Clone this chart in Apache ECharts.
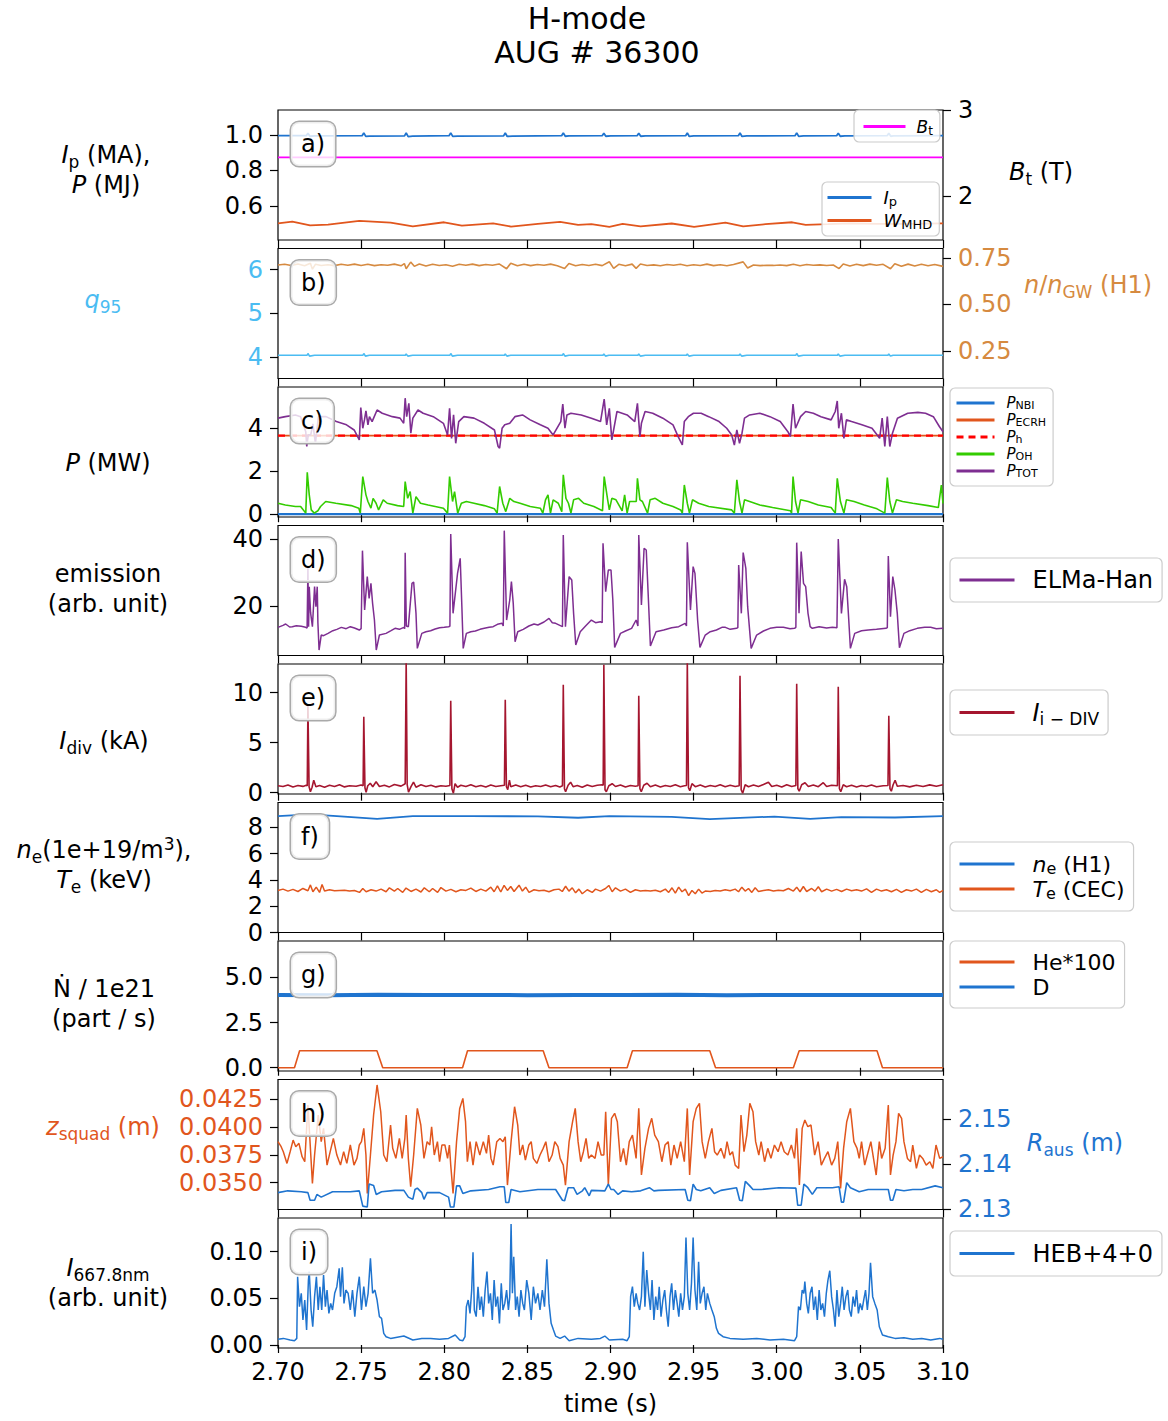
<!DOCTYPE html>
<html><head><meta charset="utf-8">
<script src="https://cdn.jsdelivr.net/npm/echarts@6/dist/echarts.min.js"></script>
<style>html,body{margin:0;padding:0;background:#fff}#c{width:1168px;height:1421px}</style>
</head><body><div id="c"></div><script>
// ---------------- DATA ----------------
const xTicks = [2.70, 2.75, 2.80, 2.85, 2.90, 2.95, 3.00, 3.05, 3.10];
const ticksA = [0.6, 0.8, 1.0];
const ticksBt = [2, 3];
const ticksQ = [4, 5, 6];
const ticksNgw = [0.25, 0.50, 0.75];
const ticksP = [0, 2, 4];
const ticksEm = [20, 40];
const ticksIdiv = [0, 5, 10];
const ticksNe = [0, 2, 4, 6, 8];
const ticksN = [0.0, 2.5, 5.0];
const ticksZ = [0.0350, 0.0375, 0.0400, 0.0425];
const ticksR = [2.13, 2.14, 2.15];
const ticksI = [0.00, 0.05, 0.10];

const ipData = [[2.700,0.996],[2.717,0.996],[2.718,1.010],[2.7192,0.993],[2.722,0.995],[2.7506,0.996],[2.7516,1.012],[2.7528,0.992],[2.755,0.994],[2.7761,0.995],[2.7771,1.011],[2.7783,0.991],[2.781,0.994],[2.8029,0.996],[2.8039,1.012],[2.8051,0.992],[2.808,0.994],[2.8357,0.995],[2.8367,1.011],[2.8379,0.992],[2.841,0.994],[2.8706,0.996],[2.8716,1.012],[2.8728,0.993],[2.875,0.995],[2.8950,0.996],[2.8960,1.010],[2.8972,0.993],[2.900,0.995],[2.9160,0.996],[2.9170,1.010],[2.9182,0.993],[2.921,0.995],[2.9452,0.996],[2.9462,1.011],[2.9474,0.992],[2.950,0.995],[2.9769,0.996],[2.9779,1.011],[2.9791,0.992],[2.982,0.995],[3.0110,0.996],[3.0120,1.012],[3.0132,0.992],[3.016,0.995],[3.0360,0.996],[3.0370,1.010],[3.0382,0.993],[3.041,0.995],[3.0664,0.996],[3.0674,1.010],[3.0686,0.993],[3.070,0.995],[3.100,0.997]];
const wmhdData = [[2.700,0.502],[2.7086,0.512],[2.7193,0.491],[2.7301,0.495],[2.7489,0.516],[2.7677,0.506],[2.7811,0.485],[2.7999,0.508],[2.8106,0.489],[2.8294,0.502],[2.8402,0.484],[2.8563,0.499],[2.8697,0.510],[2.8805,0.493],[2.8885,0.497],[2.8993,0.482],[2.9073,0.499],[2.9181,0.485],[2.9368,0.501],[2.9503,0.482],[2.9691,0.506],[2.9798,0.485],[2.9932,0.497],[3.0093,0.508],[3.0174,0.493],[3.0308,0.497],[3.0443,0.502],[3.0604,0.499],[3.0765,0.499],[3.0999,0.502]];
const btData = [[2.700,2.45],[3.100,2.45]];
const q95Data = [[2.700,4.04],[2.7175,4.04],[2.7180,4.08],[2.7190,4.02],[2.722,4.04],[2.7511,4.04],[2.7516,4.08],[2.7526,4.02],[2.755,4.04],[2.7766,4.04],[2.7771,4.07],[2.7781,4.02],[2.781,4.04],[2.8034,4.04],[2.8039,4.08],[2.8049,4.02],[2.808,4.04],[2.8362,4.04],[2.8367,4.07],[2.8377,4.02],[2.840,4.04],[2.8711,4.04],[2.8716,4.08],[2.8726,4.02],[2.875,4.04],[2.8955,4.04],[2.8960,4.07],[2.8970,4.02],[2.899,4.04],[2.9165,4.04],[2.9170,4.07],[2.9180,4.02],[2.921,4.04],[2.9457,4.04],[2.9462,4.07],[2.9472,4.02],[2.950,4.04],[2.9774,4.04],[2.9779,4.07],[2.9789,4.02],[2.982,4.04],[3.0115,4.04],[3.0120,4.08],[3.0130,4.02],[3.016,4.04],[3.0365,4.04],[3.0370,4.07],[3.0380,4.02],[3.041,4.04],[3.0669,4.04],[3.0674,4.07],[3.0684,4.02],[3.070,4.04],[3.100,4.04]];
const ngwData = [[2.700,0.712],[2.704,0.716],[2.708,0.710],[2.712,0.718],[2.716,0.708],[2.7195,0.722],[2.7207,0.690],[2.7225,0.716],[2.726,0.710],[2.730,0.714],[2.734,0.709],[2.738,0.716],[2.742,0.711],[2.746,0.717],[2.750,0.710],[2.754,0.716],[2.758,0.709],[2.762,0.714],[2.766,0.711],[2.770,0.717],[2.774,0.708],[2.776,0.720],[2.7771,0.692],[2.7798,0.728],[2.782,0.705],[2.785,0.718],[2.789,0.707],[2.793,0.716],[2.797,0.710],[2.801,0.714],[2.805,0.706],[2.809,0.716],[2.813,0.711],[2.817,0.717],[2.821,0.709],[2.825,0.715],[2.829,0.711],[2.833,0.718],[2.8375,0.692],[2.840,0.722],[2.844,0.708],[2.848,0.716],[2.852,0.709],[2.856,0.715],[2.860,0.711],[2.864,0.717],[2.868,0.708],[2.8724,0.693],[2.875,0.720],[2.879,0.708],[2.883,0.715],[2.887,0.710],[2.891,0.716],[2.895,0.709],[2.8993,0.730],[2.9019,0.694],[2.905,0.716],[2.909,0.708],[2.913,0.717],[2.9154,0.694],[2.918,0.718],[2.922,0.710],[2.926,0.713],[2.930,0.708],[2.934,0.715],[2.938,0.711],[2.942,0.716],[2.946,0.708],[2.950,0.714],[2.954,0.710],[2.958,0.717],[2.962,0.709],[2.966,0.714],[2.970,0.708],[2.974,0.715],[2.9798,0.729],[2.9825,0.696],[2.986,0.712],[2.990,0.709],[2.994,0.711],[2.998,0.710],[3.002,0.712],[3.006,0.709],[3.010,0.716],[3.014,0.708],[3.018,0.715],[3.022,0.711],[3.026,0.713],[3.030,0.710],[3.034,0.712],[3.0375,0.693],[3.040,0.718],[3.044,0.707],[3.048,0.716],[3.052,0.709],[3.056,0.717],[3.060,0.711],[3.064,0.716],[3.0684,0.692],[3.071,0.719],[3.075,0.705],[3.079,0.717],[3.083,0.707],[3.087,0.716],[3.091,0.708],[3.095,0.715],[3.100,0.705]];
const pnbiData = [[2.700,0.0],[3.100,0.0]];
const pecrhData = [[2.700,3.66],[3.100,3.66]];
const phData = [[2.700,3.66],[3.100,3.66]];
const pohData = [[2.700,0.51],[2.7044,0.43],[2.7105,0.36],[2.7136,0.36],[2.7167,0.05],[2.7176,1.95],[2.7188,0.90],[2.7200,0.20],[2.7218,0.05],[2.7240,0.16],[2.7256,0.36],[2.7287,0.59],[2.7348,0.51],[2.7440,0.40],[2.7486,0.28],[2.7495,0.05],[2.7510,1.75],[2.7529,0.90],[2.7541,0.59],[2.7559,0.28],[2.7572,0.74],[2.7590,0.51],[2.7605,0.20],[2.7633,0.67],[2.7657,0.51],[2.7719,0.40],[2.7756,0.36],[2.7765,1.52],[2.7780,0.74],[2.7795,1.05],[2.7811,0.05],[2.7830,0.82],[2.7857,0.51],[2.7903,0.43],[2.7995,0.28],[2.8020,0.05],[2.8032,1.75],[2.8050,0.59],[2.8062,1.05],[2.8081,0.05],[2.8103,0.51],[2.8133,0.59],[2.8179,0.51],[2.8241,0.40],[2.8302,0.25],[2.8318,0.05],[2.8333,1.29],[2.8352,0.51],[2.8370,0.12],[2.8394,0.74],[2.8419,0.59],[2.8456,0.51],[2.8517,0.36],[2.8578,0.28],[2.8593,0.05],[2.8609,0.67],[2.8624,0.90],[2.8639,0.05],[2.8655,0.67],[2.8686,0.51],[2.8707,0.12],[2.8716,1.83],[2.8732,0.74],[2.8747,0.51],[2.8762,0.05],[2.8778,0.67],[2.8808,0.74],[2.8839,0.51],[2.8900,0.36],[2.8952,0.16],[2.8962,1.75],[2.8983,0.67],[2.8993,0.20],[2.9008,0.74],[2.9033,0.67],[2.9070,0.16],[2.9085,0.90],[2.9100,0.05],[2.9115,0.59],[2.9155,0.59],[2.9162,1.67],[2.9177,0.67],[2.9192,0.59],[2.9223,0.05],[2.9238,0.67],[2.9269,0.74],[2.9315,0.51],[2.9376,0.36],[2.9422,0.20],[2.9432,0.05],[2.9444,1.36],[2.9462,0.51],[2.9475,0.05],[2.9493,0.67],[2.9530,0.51],[2.9591,0.36],[2.9729,0.20],[2.9745,0.05],[2.9760,1.60],[2.9776,0.59],[2.9791,0.05],[2.9806,0.67],[2.9837,0.59],[2.9898,0.43],[2.9975,0.31],[3.0082,0.16],[3.0089,0.05],[3.0098,1.75],[3.0113,0.59],[3.0128,0.05],[3.0143,0.67],[3.0189,0.59],[3.0250,0.43],[3.0327,0.31],[3.0352,0.05],[3.0364,1.67],[3.0383,0.59],[3.0404,0.05],[3.0419,0.67],[3.0465,0.59],[3.0527,0.43],[3.0603,0.25],[3.0650,0.05],[3.0665,1.71],[3.0680,0.59],[3.0696,0.05],[3.0720,0.67],[3.0757,0.59],[3.0818,0.51],[3.0910,0.40],[3.0972,0.31],[3.0990,1.36],[3.1000,0.50]];
const ptotData = [[2.700,4.47],[2.7044,4.54],[2.7105,4.62],[2.7136,4.54],[2.7167,3.84],[2.7173,3.15],[2.7182,3.69],[2.7197,3.69],[2.7210,4.20],[2.7225,3.30],[2.7243,4.54],[2.7289,4.54],[2.7351,4.31],[2.7412,4.16],[2.7458,3.92],[2.7489,3.46],[2.7498,4.96],[2.7510,4.00],[2.7520,4.39],[2.7529,4.81],[2.7541,4.16],[2.7550,4.54],[2.7566,4.31],[2.7596,4.85],[2.7627,4.70],[2.7688,4.54],[2.7734,4.47],[2.7756,4.23],[2.7765,5.40],[2.7774,4.54],[2.7787,5.16],[2.7799,3.77],[2.7811,4.47],[2.7842,4.85],[2.7873,4.70],[2.7934,4.54],[2.7995,4.23],[2.8020,3.69],[2.8032,4.93],[2.8044,3.53],[2.8056,4.62],[2.8069,3.30],[2.8087,4.31],[2.8118,4.54],[2.8179,4.47],[2.8241,4.23],[2.8302,3.92],[2.8324,3.15],[2.8333,3.07],[2.8348,4.00],[2.8364,4.16],[2.8394,4.23],[2.8425,4.54],[2.8471,4.62],[2.8517,4.39],[2.8578,4.16],[2.8624,4.00],[2.8655,3.69],[2.8701,4.31],[2.8713,5.12],[2.8726,4.00],[2.8738,4.62],[2.8762,4.70],[2.8824,4.62],[2.8885,4.47],[2.8940,4.31],[2.8962,5.36],[2.8977,4.16],[2.8993,4.93],[2.9008,3.46],[2.9039,4.78],[2.9100,4.62],[2.9146,4.31],[2.9162,5.16],[2.9177,3.61],[2.9186,4.23],[2.9208,4.78],[2.9254,4.70],[2.9315,4.47],[2.9376,4.16],[2.9407,3.61],[2.9432,3.22],[2.9444,4.31],[2.9468,4.54],[2.9499,4.70],[2.9545,4.70],[2.9591,4.54],[2.9653,4.31],[2.9699,4.00],[2.9729,3.69],[2.9745,3.22],[2.9760,3.92],[2.9776,3.30],[2.9791,3.77],[2.9806,4.47],[2.9837,4.62],[2.9898,4.70],[2.9959,4.54],[3.0021,4.31],[3.0067,3.84],[3.0082,3.61],[3.0098,5.12],[3.0113,4.00],[3.0143,4.54],[3.0174,4.78],[3.0220,4.70],[3.0266,4.54],[3.0327,4.39],[3.0352,4.78],[3.0364,5.27],[3.0373,4.00],[3.0389,4.70],[3.0404,3.53],[3.0419,4.39],[3.0450,4.31],[3.0512,4.16],[3.0573,4.00],[3.0619,3.53],[3.0634,4.47],[3.0650,3.15],[3.0665,4.54],[3.0680,3.15],[3.0696,3.77],[3.0726,4.47],[3.0788,4.70],[3.0849,4.74],[3.0895,4.70],[3.0942,4.54],[3.0978,4.08],[3.1000,3.84]];
const elmData = [[2.7000,13.6],[2.7030,14.2],[2.7046,14.6],[2.7070,13.7],[2.7086,13.8],[2.7110,14.1],[2.7140,13.9],[2.7166,13.6],[2.7175,13.4],[2.7180,31.3],[2.7184,13.8],[2.7188,25.8],[2.7196,18.0],[2.7207,13.8],[2.7220,25.8],[2.7228,19.8],[2.7236,25.8],[2.7240,15.0],[2.7247,6.8],[2.7260,11.3],[2.7274,11.1],[2.7301,11.8],[2.7330,12.6],[2.7354,13.0],[2.7381,13.6],[2.7410,13.2],[2.7435,13.8],[2.7460,13.4],[2.7489,12.8],[2.7500,13.2],[2.7508,36.6],[2.7521,18.8],[2.7537,28.8],[2.7548,22.3],[2.7559,26.8],[2.7569,20.8],[2.7580,15.8],[2.7591,6.8],[2.7610,11.3],[2.7650,11.8],[2.7680,12.6],[2.7704,13.3],[2.7730,13.0],[2.7757,13.6],[2.7762,13.2],[2.7765,36.0],[2.7772,14.0],[2.7784,13.8],[2.7806,26.8],[2.7816,27.2],[2.7830,17.8],[2.7838,7.3],[2.7865,11.8],[2.7890,12.3],[2.7918,12.6],[2.7945,13.1],[2.7972,13.5],[2.8000,13.6],[2.8026,13.8],[2.8034,13.9],[2.8039,41.6],[2.8053,17.8],[2.8080,29.8],[2.8096,34.3],[2.8106,19.8],[2.8114,7.3],[2.8133,11.8],[2.8160,12.3],[2.8187,12.5],[2.8215,13.0],[2.8241,13.3],[2.8270,13.6],[2.8294,13.8],[2.8320,14.5],[2.8348,14.8],[2.8355,14.0],[2.8361,42.6],[2.8375,15.8],[2.8394,21.8],[2.8404,27.3],[2.8415,20.8],[2.8426,9.3],[2.8442,12.3],[2.8475,13.0],[2.8509,14.0],[2.8540,14.6],[2.8563,14.3],[2.8600,15.2],[2.8630,16.3],[2.8650,15.0],[2.8670,14.8],[2.8711,13.8],[2.8716,41.3],[2.8729,13.8],[2.8751,28.8],[2.8767,27.8],[2.8778,17.8],[2.8791,8.3],[2.8818,12.3],[2.8850,14.0],[2.8885,15.8],[2.8910,15.0],[2.8939,15.3],[2.8950,15.0],[2.8955,38.8],[2.8971,24.3],[2.8987,30.8],[2.9003,30.8],[2.9014,21.8],[2.9025,7.6],[2.9060,11.8],[2.9090,12.5],[2.9127,13.3],[2.9154,15.8],[2.9165,14.0],[2.9170,41.3],[2.9186,20.3],[2.9202,37.3],[2.9215,36.8],[2.9229,20.8],[2.9240,8.0],[2.9274,12.3],[2.9320,12.8],[2.9368,13.5],[2.9410,13.8],[2.9449,14.8],[2.9457,14.0],[2.9462,39.1],[2.9481,18.8],[2.9497,31.8],[2.9508,29.8],[2.9524,15.8],[2.9538,7.6],[2.9570,11.3],[2.9600,12.3],[2.9637,12.8],[2.9670,13.6],[2.9691,13.6],[2.9720,13.0],[2.9758,13.3],[2.9766,13.5],[2.9771,32.3],[2.9787,17.8],[2.9798,36.0],[2.9814,31.3],[2.9825,19.8],[2.9846,7.3],[2.9879,11.3],[2.9920,12.5],[2.9959,13.3],[3.0000,13.6],[3.0040,13.6],[3.0080,13.2],[3.0107,13.3],[3.0115,13.6],[3.0120,39.0],[3.0134,17.8],[3.0147,36.3],[3.0161,26.8],[3.0174,25.8],[3.0188,17.8],[3.0201,13.8],[3.0214,13.3],[3.0255,13.8],[3.0300,13.4],[3.0335,13.6],[3.0362,13.5],[3.0370,40.1],[3.0389,17.8],[3.0408,28.0],[3.0421,25.8],[3.0432,16.8],[3.0443,7.3],[3.0469,11.8],[3.0510,12.6],[3.0550,12.8],[3.0600,13.0],[3.0657,13.3],[3.0665,13.5],[3.0671,35.0],[3.0684,16.8],[3.0698,28.8],[3.0711,24.8],[3.0725,17.8],[3.0738,7.5],[3.0765,11.8],[3.0800,12.6],[3.0845,13.3],[3.0890,13.6],[3.0926,13.6],[3.0960,13.2],[3.1000,13.3]];
const idivData = [[2.7000,0.70],[2.7030,0.62],[2.7060,0.78],[2.7090,0.58],[2.7120,0.72],[2.7150,0.63],[2.7170,0.75],[2.7176,0.70],[2.7180,8.7],[2.7187,0.60],[2.7195,0.10],[2.7205,0.55],[2.7215,1.25],[2.7228,0.60],[2.7250,0.72],[2.7280,0.55],[2.7310,0.75],[2.7340,0.62],[2.7370,0.80],[2.7400,0.58],[2.7430,0.70],[2.7470,0.65],[2.7500,0.78],[2.7512,0.70],[2.7516,7.6],[2.7523,0.50],[2.7530,0.05],[2.7540,0.70],[2.7555,0.95],[2.7570,0.60],[2.7590,1.10],[2.7610,0.62],[2.7640,0.75],[2.7670,0.58],[2.7700,0.82],[2.7740,0.66],[2.7765,0.90],[2.7771,13.2],[2.7777,0.80],[2.7785,0.05],[2.7800,0.60],[2.7815,1.05],[2.7830,0.55],[2.7860,0.80],[2.7890,0.62],[2.7920,0.74],[2.7950,0.58],[2.7980,0.70],[2.8010,0.64],[2.8034,0.72],[2.8039,9.2],[2.8046,0.40],[2.8055,-0.05],[2.8065,0.90],[2.8080,0.55],[2.8100,0.75],[2.8130,0.62],[2.8160,0.80],[2.8190,0.60],[2.8220,0.72],[2.8250,0.58],[2.8280,0.76],[2.8310,0.62],[2.8340,0.70],[2.8362,0.75],[2.8367,9.3],[2.8374,0.60],[2.8382,0.30],[2.8392,1.25],[2.8400,0.60],[2.8430,0.78],[2.8460,0.60],[2.8490,0.74],[2.8520,0.56],[2.8550,0.70],[2.8580,0.62],[2.8610,0.78],[2.8640,0.60],[2.8670,0.72],[2.8695,0.58],[2.8711,0.70],[2.8716,10.8],[2.8723,0.40],[2.8730,0.10],[2.8745,0.75],[2.8760,1.05],[2.8775,0.60],[2.8800,0.72],[2.8830,0.55],[2.8860,0.78],[2.8890,0.62],[2.8920,0.74],[2.8950,0.80],[2.8956,0.75],[2.8960,12.8],[2.8967,0.30],[2.8975,0.10],[2.8990,0.70],[2.9010,0.90],[2.9030,0.62],[2.9060,0.78],[2.9090,0.58],[2.9120,0.72],[2.9150,0.65],[2.9166,0.70],[2.9170,9.7],[2.9177,0.40],[2.9185,0.10],[2.9200,0.75],[2.9220,0.95],[2.9240,0.60],[2.9270,0.76],[2.9300,0.58],[2.9330,0.72],[2.9360,0.62],[2.9390,0.80],[2.9420,0.60],[2.9445,0.70],[2.9457,0.72],[2.9462,13.2],[2.9469,0.50],[2.9477,0.20],[2.9490,0.90],[2.9510,0.60],[2.9540,0.78],[2.9570,0.58],[2.9600,0.72],[2.9630,0.62],[2.9660,0.80],[2.9690,0.60],[2.9720,0.74],[2.9750,0.62],[2.9774,0.70],[2.9779,11.7],[2.9786,0.30],[2.9795,-0.05],[2.9810,0.80],[2.9830,0.60],[2.9860,0.76],[2.9890,0.62],[2.9920,0.82],[2.9950,1.05],[2.9970,0.62],[3.0000,0.74],[3.0030,0.58],[3.0060,0.80],[3.0090,0.62],[3.0115,0.72],[3.0120,10.9],[3.0127,0.40],[3.0135,0.15],[3.0150,0.80],[3.0170,1.00],[3.0190,0.62],[3.0220,0.78],[3.0250,0.60],[3.0280,1.00],[3.0300,0.62],[3.0330,0.75],[3.0365,0.70],[3.0370,10.6],[3.0377,0.40],[3.0385,0.10],[3.0400,0.80],[3.0420,0.60],[3.0450,0.75],[3.0480,0.58],[3.0510,0.72],[3.0540,0.62],[3.0570,0.78],[3.0600,0.60],[3.0640,0.70],[3.0669,0.72],[3.0674,7.7],[3.0681,0.40],[3.0689,0.15],[3.0700,0.80],[3.0712,1.25],[3.0725,0.65],[3.0760,0.72],[3.0800,0.58],[3.0840,0.75],[3.0880,0.62],[3.0920,0.78],[3.0960,0.64],[3.1000,0.80]];
const neData = [[2.700,8.86],[2.7193,8.98],[2.7354,8.86],[2.7596,8.65],[2.7811,8.86],[2.8160,8.86],[2.8563,8.83],[2.8805,8.73],[2.8993,8.86],[2.9368,8.80],[2.9597,8.63],[2.9986,8.82],[3.0201,8.65],[3.0389,8.78],[3.0711,8.75],[3.0999,8.86]];
const teData = [[2.700,3.20],[2.703,3.30],[2.706,3.15],[2.709,3.28],[2.712,3.12],[2.715,3.35],[2.718,3.18],[2.7195,3.62],[2.721,3.10],[2.723,3.45],[2.725,3.05],[2.7265,3.65],[2.728,3.15],[2.731,3.25],[2.734,3.18],[2.737,3.20],[2.740,3.22],[2.743,3.15],[2.746,3.20],[2.749,3.05],[2.751,3.35],[2.753,3.10],[2.756,3.25],[2.759,3.15],[2.762,3.30],[2.765,3.10],[2.767,3.40],[2.770,3.15],[2.772,3.35],[2.775,3.05],[2.777,3.38],[2.780,3.12],[2.783,3.30],[2.786,3.08],[2.788,3.40],[2.791,3.10],[2.793,3.35],[2.796,3.05],[2.798,3.42],[2.801,3.15],[2.804,3.28],[2.807,3.10],[2.810,3.25],[2.813,3.20],[2.816,3.38],[2.819,3.12],[2.822,3.30],[2.825,3.15],[2.828,3.45],[2.830,3.10],[2.832,3.55],[2.834,3.08],[2.836,3.58],[2.838,3.20],[2.840,3.50],[2.842,3.12],[2.845,3.60],[2.847,3.15],[2.849,3.45],[2.851,3.05],[2.854,3.25],[2.857,3.18],[2.860,3.22],[2.863,3.10],[2.866,3.25],[2.869,3.30],[2.871,3.12],[2.873,3.52],[2.875,3.15],[2.877,3.40],[2.879,3.02],[2.881,3.30],[2.883,2.95],[2.886,3.25],[2.889,3.05],[2.891,3.30],[2.894,3.15],[2.897,3.35],[2.899,3.58],[2.901,3.10],[2.903,3.40],[2.906,3.15],[2.909,3.30],[2.912,3.05],[2.915,3.25],[2.918,3.15],[2.921,3.20],[2.924,3.15],[2.927,3.22],[2.930,3.10],[2.933,3.30],[2.935,3.05],[2.937,3.40],[2.939,3.00],[2.941,3.45],[2.943,3.10],[2.945,3.30],[2.947,2.80],[2.949,3.20],[2.951,2.95],[2.953,3.30],[2.955,3.00],[2.957,3.15],[2.960,3.12],[2.963,3.20],[2.966,3.15],[2.969,3.25],[2.972,3.18],[2.975,3.30],[2.977,3.10],[2.979,3.45],[2.981,3.15],[2.983,3.35],[2.985,3.05],[2.987,3.40],[2.989,3.12],[2.992,3.20],[2.995,3.25],[2.998,3.15],[3.001,3.22],[3.004,3.18],[3.007,3.35],[3.010,3.15],[3.012,3.45],[3.014,3.10],[3.016,3.50],[3.018,3.12],[3.021,3.35],[3.023,3.15],[3.025,3.48],[3.027,3.10],[3.030,3.30],[3.033,3.15],[3.036,3.28],[3.039,3.12],[3.042,3.30],[3.045,3.18],[3.048,3.25],[3.051,3.15],[3.054,3.32],[3.057,3.05],[3.060,3.30],[3.063,3.15],[3.066,3.25],[3.069,3.10],[3.072,3.28],[3.075,3.05],[3.078,3.25],[3.081,3.15],[3.084,3.30],[3.087,3.05],[3.090,3.28],[3.093,3.10],[3.096,3.25],[3.098,3.05],[3.100,3.20]];
const heData = [[2.700,0],[2.7099,0],[2.7130,0.94],[2.7595,0.94],[2.7630,0],[2.8110,0],[2.8140,0.94],[2.8595,0.94],[2.8630,0],[2.9100,0],[2.9132,0.94],[2.9597,0.94],[2.9632,0],[3.0100,0],[3.0135,0.94],[3.0603,0.94],[3.0636,0],[3.1000,0]];
const dData = [[2.700,4.03],[2.730,4.01],[2.760,4.04],[2.790,4.02],[2.820,4.03],[2.850,4.01],[2.880,4.03],[2.910,4.02],[2.940,4.04],[2.970,4.01],[3.000,4.03],[3.030,4.02],[3.060,4.03],[3.100,4.02]];
const zData = [[2.7000,0.03868],[2.7019,0.03823],[2.7032,0.03778],[2.7054,0.03673],[2.7073,0.03778],[2.7091,0.03882],[2.7107,0.03823],[2.7126,0.03853],[2.7145,0.03733],[2.7161,0.03688],[2.7180,0.04196],[2.7207,0.03494],[2.7220,0.03748],[2.7242,0.04107],[2.7260,0.03868],[2.7274,0.03987],[2.7295,0.03658],[2.7314,0.03778],[2.7333,0.03897],[2.7354,0.03748],[2.7376,0.03658],[2.7395,0.03778],[2.7414,0.03673],[2.7435,0.03838],[2.7457,0.03658],[2.7475,0.03718],[2.7489,0.03838],[2.7502,0.03868],[2.7516,0.03987],[2.7529,0.03748],[2.7537,0.03404],[2.7556,0.03748],[2.7575,0.04107],[2.7596,0.04376],[2.7618,0.04136],[2.7636,0.03748],[2.7655,0.03688],[2.7677,0.04017],[2.7690,0.03808],[2.7709,0.03718],[2.7730,0.03897],[2.7747,0.03718],[2.7763,0.03897],[2.7771,0.04107],[2.7784,0.03718],[2.7798,0.03464],[2.7816,0.03748],[2.7838,0.04166],[2.7859,0.04017],[2.7878,0.03718],[2.7897,0.03868],[2.7913,0.03838],[2.7924,0.04002],[2.7940,0.03748],[2.7959,0.03868],[2.7972,0.03688],[2.7986,0.03838],[2.8004,0.03838],[2.8020,0.03718],[2.8031,0.03838],[2.8039,0.03658],[2.8053,0.03404],[2.8074,0.03868],[2.8093,0.04166],[2.8112,0.04256],[2.8128,0.04047],[2.8139,0.03688],[2.8155,0.03868],[2.8173,0.03658],[2.8192,0.03868],[2.8214,0.03748],[2.8235,0.03868],[2.8254,0.03763],[2.8267,0.03927],[2.8281,0.03718],[2.8294,0.03658],[2.8316,0.03868],[2.8335,0.03897],[2.8353,0.03868],[2.8367,0.03912],[2.8380,0.03479],[2.8402,0.03868],[2.8423,0.04181],[2.8442,0.04017],[2.8455,0.03748],[2.8472,0.03838],[2.8488,0.03703],[2.8509,0.03838],[2.8523,0.03868],[2.8536,0.03718],[2.8557,0.03673],[2.8576,0.03748],[2.8595,0.03808],[2.8611,0.03868],[2.8630,0.03688],[2.8649,0.03748],[2.8665,0.03868],[2.8684,0.03823],[2.8697,0.03718],[2.8716,0.03658],[2.8729,0.03479],[2.8751,0.03868],[2.8772,0.04047],[2.8788,0.04166],[2.8805,0.03868],[2.8821,0.03688],[2.8837,0.03778],[2.8853,0.03897],[2.8869,0.03718],[2.8885,0.03748],[2.8907,0.03718],[2.8925,0.03868],[2.8944,0.03748],[2.8960,0.03748],[2.8971,0.04136],[2.8987,0.03479],[2.9006,0.04077],[2.9025,0.04122],[2.9041,0.04047],[2.9060,0.03688],[2.9078,0.03808],[2.9095,0.03658],[2.9113,0.03868],[2.9132,0.03927],[2.9154,0.03718],[2.9170,0.04166],[2.9186,0.03569],[2.9207,0.03808],[2.9229,0.03987],[2.9248,0.04077],[2.9266,0.03927],[2.9288,0.03868],[2.9309,0.03688],[2.9328,0.03838],[2.9347,0.03868],[2.9363,0.03658],[2.9382,0.03838],[2.9401,0.03718],[2.9422,0.03868],[2.9444,0.03688],[2.9462,0.04166],[2.9476,0.03569],[2.9497,0.04047],[2.9516,0.04166],[2.9535,0.04211],[2.9551,0.03868],[2.9570,0.03718],[2.9589,0.03868],[2.9610,0.03987],[2.9626,0.03778],[2.9642,0.03748],[2.9664,0.03808],[2.9685,0.03718],[2.9701,0.03868],[2.9718,0.03748],[2.9734,0.03778],[2.9750,0.03658],[2.9771,0.03628],[2.9785,0.04107],[2.9803,0.03778],[2.9820,0.03927],[2.9838,0.04211],[2.9857,0.04136],[2.9873,0.03868],[2.9892,0.03748],[2.9906,0.03868],[2.9927,0.03688],[2.9946,0.03808],[2.9965,0.03718],[2.9986,0.03838],[3.0008,0.03778],[3.0026,0.03868],[3.0045,0.03778],[3.0067,0.03748],[3.0088,0.03838],[3.0107,0.03718],[3.0120,0.03987],[3.0136,0.03479],[3.0153,0.03987],[3.0169,0.04062],[3.0187,0.04002],[3.0206,0.04017],[3.0228,0.03748],[3.0249,0.03868],[3.0268,0.03658],[3.0287,0.03718],[3.0308,0.03778],[3.0330,0.03658],[3.0349,0.03718],[3.0367,0.03868],[3.0384,0.03449],[3.0402,0.03808],[3.0421,0.04047],[3.0443,0.04166],[3.0464,0.03868],[3.0483,0.03808],[3.0496,0.03718],[3.0510,0.03868],[3.0529,0.03658],[3.0550,0.03778],[3.0566,0.03868],[3.0582,0.03718],[3.0598,0.03569],[3.0617,0.03868],[3.0631,0.03718],[3.0652,0.03808],[3.0671,0.04196],[3.0684,0.03569],[3.0700,0.03748],[3.0717,0.03868],[3.0733,0.04122],[3.0751,0.04077],[3.0765,0.03868],[3.0786,0.03718],[3.0805,0.03688],[3.0818,0.03838],[3.0840,0.03628],[3.0859,0.03748],[3.0878,0.03718],[3.0899,0.03658],[3.0921,0.03688],[3.0939,0.03628],[3.0958,0.03838],[3.0980,0.03718],[3.1000,0.03733]];
const rData = [[2.7000,2.1337],[2.7059,2.1341],[2.7140,2.1339],[2.7180,2.1337],[2.7193,2.1320],[2.7220,2.1320],[2.7234,2.1333],[2.7260,2.1327],[2.7328,2.1339],[2.7435,2.1339],[2.7489,2.1341],[2.7510,2.1307],[2.7537,2.1305],[2.7548,2.1356],[2.7575,2.1353],[2.7591,2.1333],[2.7623,2.1339],[2.7704,2.1342],[2.7757,2.1342],[2.7784,2.1327],[2.7811,2.1322],[2.7824,2.1344],[2.7838,2.1347],[2.7865,2.1337],[2.7878,2.1322],[2.7897,2.1337],[2.7972,2.1337],[2.8026,2.1327],[2.8037,2.1305],[2.8058,2.1305],[2.8074,2.1352],[2.8093,2.1352],[2.8112,2.1335],[2.8160,2.1341],[2.8267,2.1344],[2.8335,2.1350],[2.8361,2.1350],[2.8370,2.1315],[2.8388,2.1315],[2.8402,2.1344],[2.8455,2.1339],[2.8563,2.1344],[2.8670,2.1344],[2.8711,2.1320],[2.8724,2.1319],[2.8745,2.1348],[2.8778,2.1348],[2.8799,2.1333],[2.8831,2.1341],[2.8845,2.1348],[2.8872,2.1330],[2.8885,2.1342],[2.8966,2.1341],[2.8987,2.1356],[2.9003,2.1344],[2.9019,2.1344],[2.9046,2.1333],[2.9073,2.1341],[2.9127,2.1339],[2.9181,2.1341],[2.9234,2.1348],[2.9261,2.1341],[2.9288,2.1342],[2.9449,2.1344],[2.9465,2.1320],[2.9481,2.1319],[2.9497,2.1356],[2.9516,2.1344],[2.9543,2.1341],[2.9597,2.1348],[2.9624,2.1335],[2.9664,2.1342],[2.9758,2.1348],[2.9777,2.1320],[2.9793,2.1319],[2.9811,2.1362],[2.9838,2.1352],[2.9857,2.1344],[2.9906,2.1344],[3.0013,2.1348],[3.0115,2.1347],[3.0126,2.1309],[3.0147,2.1309],[3.0163,2.1356],[3.0187,2.1348],[3.0214,2.1333],[3.0241,2.1348],[3.0335,2.1348],[3.0375,2.1350],[3.0389,2.1316],[3.0402,2.1316],[3.0421,2.1359],[3.0443,2.1348],[3.0496,2.1339],[3.0550,2.1344],[3.0671,2.1344],[3.0684,2.1320],[3.0698,2.1320],[3.0717,2.1344],[3.0765,2.1341],[3.0818,2.1344],[3.0872,2.1344],[3.0953,2.1352],[3.0999,2.1348]];
const hebData = [[2.7000,0.0061],[2.7032,0.0071],[2.7073,0.0054],[2.7099,0.0046],[2.7113,0.0071],[2.7118,0.0732],[2.7129,0.0411],[2.7140,0.0554],[2.7150,0.0268],[2.7161,0.0482],[2.7172,0.0161],[2.7183,0.0696],[2.7188,0.0786],[2.7199,0.0375],[2.7209,0.0196],[2.7220,0.0518],[2.7231,0.0732],[2.7242,0.0375],[2.7252,0.0625],[2.7263,0.0375],[2.7274,0.0750],[2.7285,0.0411],[2.7295,0.0589],[2.7306,0.0339],[2.7317,0.0446],[2.7328,0.0375],[2.7341,0.0554],[2.7354,0.0625],[2.7368,0.0821],[2.7376,0.0518],[2.7387,0.0832],[2.7397,0.0446],[2.7408,0.0589],[2.7422,0.0554],[2.7435,0.0375],[2.7448,0.0589],[2.7462,0.0304],[2.7475,0.0554],[2.7489,0.0732],[2.7502,0.0375],[2.7516,0.0625],[2.7529,0.0411],[2.7542,0.0554],[2.7556,0.0929],[2.7569,0.0554],[2.7583,0.0589],[2.7596,0.0482],[2.7610,0.0304],[2.7623,0.0286],[2.7636,0.0125],[2.7650,0.0089],[2.7677,0.0071],[2.7757,0.0096],[2.7811,0.0054],[2.7865,0.0071],[2.7918,0.0071],[2.7972,0.0061],[2.8026,0.0071],[2.8066,0.0107],[2.8093,0.0054],[2.8112,0.0046],[2.8125,0.0089],[2.8133,0.0411],[2.8144,0.0482],[2.8155,0.0339],[2.8165,0.0589],[2.8173,0.0993],[2.8181,0.0375],[2.8192,0.0304],[2.8203,0.0625],[2.8214,0.0375],[2.8224,0.0518],[2.8235,0.0304],[2.8246,0.0589],[2.8257,0.0786],[2.8267,0.0446],[2.8278,0.0554],[2.8289,0.0268],[2.8300,0.0696],[2.8310,0.0411],[2.8321,0.0518],[2.8332,0.0232],[2.8343,0.0661],[2.8353,0.0375],[2.8364,0.0446],[2.8375,0.0589],[2.8386,0.0375],[2.8394,0.0518],[2.8402,0.1296],[2.8410,0.0554],[2.8418,0.0946],[2.8429,0.0375],[2.8439,0.0518],[2.8450,0.0304],[2.8461,0.0589],[2.8472,0.0446],[2.8482,0.0375],[2.8496,0.0696],[2.8509,0.0554],[2.8523,0.0268],[2.8536,0.0625],[2.8549,0.0446],[2.8563,0.0554],[2.8576,0.0375],[2.8590,0.0589],[2.8603,0.0411],[2.8617,0.0918],[2.8630,0.0446],[2.8643,0.0232],[2.8657,0.0161],[2.8670,0.0096],[2.8697,0.0071],[2.8724,0.0096],[2.8751,0.0046],[2.8805,0.0071],[2.8885,0.0061],[2.8939,0.0071],[2.8966,0.0096],[2.8993,0.0054],[2.9073,0.0061],[2.9100,0.0046],[2.9113,0.0089],[2.9121,0.0518],[2.9132,0.0625],[2.9143,0.0411],[2.9154,0.0554],[2.9164,0.0446],[2.9175,0.0375],[2.9186,0.0518],[2.9197,0.1000],[2.9207,0.0411],[2.9218,0.0804],[2.9229,0.0554],[2.9240,0.0375],[2.9250,0.0696],[2.9261,0.0268],[2.9272,0.0518],[2.9283,0.0375],[2.9293,0.0625],[2.9304,0.0304],[2.9315,0.0482],[2.9326,0.0589],[2.9336,0.0375],[2.9347,0.0196],[2.9358,0.0518],[2.9368,0.0661],[2.9379,0.0375],[2.9390,0.0589],[2.9401,0.0446],[2.9411,0.0304],[2.9422,0.0554],[2.9433,0.0375],[2.9444,0.0518],[2.9454,0.1153],[2.9465,0.0554],[2.9476,0.0375],[2.9487,0.0661],[2.9497,0.1153],[2.9508,0.0589],[2.9519,0.0375],[2.9530,0.0893],[2.9540,0.0446],[2.9551,0.0554],[2.9562,0.0625],[2.9573,0.0375],[2.9583,0.0554],[2.9597,0.0446],[2.9610,0.0375],[2.9624,0.0304],[2.9637,0.0179],[2.9650,0.0125],[2.9677,0.0089],[2.9718,0.0071],[2.9798,0.0061],[2.9879,0.0071],[2.9959,0.0054],[3.0040,0.0061],[3.0107,0.0046],[3.0120,0.0089],[3.0131,0.0411],[3.0142,0.0375],[3.0153,0.0589],[3.0163,0.0554],[3.0169,0.0679],[3.0180,0.0446],[3.0190,0.0339],[3.0201,0.0554],[3.0212,0.0625],[3.0222,0.0375],[3.0233,0.0518],[3.0244,0.0268],[3.0255,0.0589],[3.0265,0.0375],[3.0276,0.0446],[3.0287,0.0304],[3.0298,0.0554],[3.0308,0.0696],[3.0319,0.0796],[3.0330,0.0518],[3.0341,0.0375],[3.0351,0.0196],[3.0362,0.0589],[3.0373,0.0304],[3.0384,0.0446],[3.0394,0.0625],[3.0405,0.0375],[3.0416,0.0518],[3.0427,0.0589],[3.0437,0.0375],[3.0448,0.0304],[3.0459,0.0518],[3.0470,0.0411],[3.0480,0.0589],[3.0491,0.0339],[3.0502,0.0446],[3.0513,0.0375],[3.0523,0.0482],[3.0534,0.0589],[3.0545,0.0375],[3.0555,0.0554],[3.0564,0.0882],[3.0577,0.0518],[3.0590,0.0446],[3.0604,0.0375],[3.0617,0.0196],[3.0636,0.0107],[3.0671,0.0089],[3.0711,0.0071],[3.0765,0.0079],[3.0818,0.0061],[3.0872,0.0071],[3.0926,0.0054],[3.0980,0.0071],[3.0999,0.0061]];

// ---------------- STYLE / LAYOUT ----------------
const FONT = 'DejaVu Sans';
const C = {
  blue: '#1f74cf', orange: '#e1561d', mag: '#ff00ff', q95: '#4bbcf2', ngw: '#d68a40',
  red: '#ff0000', green: '#33cc00', purple: '#7e2e91', crimson: '#a5162f'
};
const TOPS = [110, 248.5, 387, 525.5, 664, 802.5, 941, 1079.5, 1218];
const GL = 278, GW = 665, GH = 130;

function mkRich(fs, sfs, lh) {
  return {
    i: {fontFamily: FONT, fontSize: fs, fontStyle: 'italic', lineHeight: lh},
    r: {fontFamily: FONT, fontSize: fs, lineHeight: lh},
    s: {fontFamily: FONT, fontSize: sfs, lineHeight: sfs, verticalAlign: 'bottom'},
    u: {fontFamily: FONT, fontSize: sfs, lineHeight: sfs, verticalAlign: 'top'}
  };
}
const rich24 = mkRich(24, 17, 30);

const grids = TOPS.map(t => ({left: GL, top: t, width: GW, height: GH, show: true,
  borderColor: '#000', borderWidth: 1.2, backgroundColor: 'rgba(0,0,0,0)'}));

const xAxes = TOPS.map((t, i) => ({
  type: 'value', gridIndex: i, min: 2.70, max: 3.10,
  splitLine: {show: false}, axisLine: {show: false},
  axisTick: {show: true, length: 8, lineStyle: {color: '#000', width: 1.2}, customValues: xTicks},
  axisLabel: {show: i === 8, customValues: xTicks, formatter: v => v.toFixed(2), margin: 12,
    fontSize: 24, fontFamily: FONT, color: '#000'},
  name: i === 8 ? 'time (s)' : '', nameLocation: 'middle', nameGap: 44,
  nameTextStyle: {fontSize: 24, fontFamily: FONT, color: '#000'}
}));

function yAx(g, pos, min, max, ticks, dec, color) {
  return {
    type: 'value', gridIndex: g, position: pos, min: min, max: max,
    splitLine: {show: false}, axisLine: {show: false},
    axisTick: {show: true, length: 8, lineStyle: {color: '#000', width: 1.2}, customValues: ticks},
    axisLabel: {show: true, customValues: ticks, formatter: v => v.toFixed(dec), margin: 15,
      fontSize: 24, fontFamily: FONT, color: color || '#000'}
  };
}
const yAxes = [
  yAx(0, 'left', 0.408, 1.141, ticksA, 1),
  yAx(0, 'right', 1.49, 3.0, ticksBt, 0),
  yAx(1, 'left', 3.507, 6.486, ticksQ, 0, C.q95),
  yAx(1, 'right', 0.102, 0.801, ticksNgw, 2, C.ngw),
  yAx(2, 'left', -0.13, 5.92, ticksP, 0),
  yAx(3, 'left', 5.16, 44.14, ticksEm, 0),
  yAx(4, 'left', -0.13, 12.87, ticksIdiv, 0),
  yAx(5, 'left', 0, 9.89, ticksNe, 0),
  yAx(6, 'left', -0.18, 7.01, ticksN, 1),
  yAx(7, 'left', 0.0326, 0.04425, ticksZ, 4, C.orange),
  yAx(7, 'right', 2.12995, 2.15885, ticksR, 2, C.blue),
  yAx(8, 'left', -0.0032, 0.1361, ticksI, 2)
];

function ser(name, data, xi, yi, color, w, type, z) {
  return {name: name, type: 'line', data: data, xAxisIndex: xi, yAxisIndex: yi,
    symbol: 'none', showSymbol: false, clip: true, animation: false,
    lineStyle: {color: color, width: w || 1.6, type: type || 'solid'},
    itemStyle: {color: color}, z: z || 2, emphasis: {disabled: true}};
}
const series = [
  ser('Ip', ipData, 0, 0, C.blue, 1.8),
  ser('WMHD', wmhdData, 0, 0, C.orange, 1.8),
  ser('Bt', btData, 0, 1, C.mag, 1.8),
  ser('q95', q95Data, 1, 2, C.q95, 1.6),
  ser('ngw', ngwData, 1, 3, C.ngw, 1.6),
  ser('PNBI', pnbiData, 2, 4, C.blue, 2.2),
  ser('PECRH', pecrhData, 2, 4, C.orange, 1.8),
  ser('Ph', phData, 2, 4, C.red, 2.2, [7, 5]),
  ser('POH', pohData, 2, 4, C.green, 1.6),
  ser('PTOT', ptotData, 2, 4, C.purple, 1.6),
  ser('ELMa-Han', elmData, 3, 5, C.purple, 1.5),
  ser('Ii-DIV', idivData, 4, 6, C.crimson, 1.6),
  ser('ne', neData, 5, 7, C.blue, 1.8),
  ser('Te', teData, 5, 7, C.orange, 1.5),
  ser('He*100', heData, 6, 8, C.orange, 1.6),
  ser('D', dData, 6, 8, C.blue, 4),
  ser('zsq', zData, 7, 9, C.orange, 1.5),
  ser('Raus', rData, 7, 10, C.blue, 1.6),
  ser('HEB+4+0', hebData, 8, 11, C.blue, 1.5)
];

const legendLabel = {
  'Ip': '{i|I}{s|p}', 'WMHD': '{i|W}{s|MHD}', 'Bt': '{i|B}{s|t}',
  'PNBI': '{i|P}{s|NBI}', 'PECRH': '{i|P}{s|ECRH}', 'Ph': '{i|P}{s|h}', 'POH': '{i|P}{s|OH}', 'PTOT': '{i|P}{s|TOT}',
  'ELMa-Han': '{r|ELMa-Han}', 'Ii-DIV': '{i|I}{s|i \u2212 DIV}',
  'ne': '{i|n}{s|e}{r| (H1)}', 'Te': '{i|T}{s|e}{r| (CEC)}',
  'He*100': '{r|He*100}', 'D': '{r|D}', 'HEB+4+0': '{r|HEB+4+0}'
};
function leg(data, left, top, iw, fs, sfs, lh, gap, pad, tpad) {
  return {
    data: data, left: left, top: top, orient: 'vertical', itemWidth: iw, itemHeight: 12, itemGap: gap,
    padding: pad, selectedMode: false,
    backgroundColor: 'rgba(255,255,255,0.85)', borderColor: '#cccccc', borderWidth: 1.2, borderRadius: 5,
    formatter: n => legendLabel[n],
    itemStyle: {opacity: 0, borderWidth: 0},
    textStyle: {fontFamily: FONT, fontSize: fs, lineHeight: lh, color: '#000', rich: mkRich(fs, sfs, lh), padding: [0, 0, 0, tpad]},
    lineStyle: {width: 3}
  };
}
const legends = [
  leg(['Bt'], 854, 110, 42, 17, 12, 21, 0, [6, 7, 5, 8], 6),
  leg(['Ip', 'WMHD'], 822, 182, 44, 18, 13, 21, 2, [5, 7, 5, 4], 7),
  leg(['PNBI', 'PECRH', 'Ph', 'POH', 'PTOT'], 950, 388, 38, 15, 11, 16, 1, [7, 7, 7, 5], 7),
  leg(['ELMa-Han'], 950, 558, 55, 24, 17, 28, 0, [8, 9, 8, 8], 13),
  leg(['Ii-DIV'], 950, 690, 55, 24, 17, 29, 0, [8, 9, 8, 8], 13),
  leg(['ne', 'Te'], 950, 842, 55, 22, 16, 24, 1, [10, 9, 10, 8], 13),
  leg(['He*100', 'D'], 950, 941, 55, 22, 16, 24, 1, [9, 9, 9, 8], 13),
  leg(['HEB+4+0'], 950, 1231, 55, 24, 17, 29, 0, [8, 9, 8, 8], 13)
];

function txt(x, y, text, color) {
  return {type: 'text', x: x, y: y, z: 100, silent: true,
    style: {text: text, fill: color || '#000', font: '24px "DejaVu Sans"', fontFamily: FONT, fontSize: 24,
      align: 'center', verticalAlign: 'middle', textAlign: 'center', textVerticalAlign: 'middle', rich: rich24}};
}
const panelNames = ['a)', 'b)', 'c)', 'd)', 'e)', 'f)', 'g)', 'h)', 'i)'];
const graphics = [
  {type: 'text', x: 587, y: 18, z: 100, style: {text: 'H-mode', fill: '#000', fontFamily: FONT, fontSize: 30, font: '30px "DejaVu Sans"', align: 'center', verticalAlign: 'middle', textAlign: 'center', textVerticalAlign: 'middle'}},
  {type: 'text', x: 597, y: 52, z: 100, style: {text: 'AUG # 36300', fill: '#000', fontFamily: FONT, fontSize: 30, font: '30px "DejaVu Sans"', align: 'center', verticalAlign: 'middle', textAlign: 'center', textVerticalAlign: 'middle'}},
  txt(106, 170, '{i|I}{s|p}{r| (MA),}\n{i|P}{r| (MJ)}'),
  txt(103, 300, '{i|q}{s|95}', C.q95),
  txt(108, 463, '{i|P}{r| (MW)}'),
  txt(108, 589, '{r|emission}\n{r|(arb. unit)}'),
  txt(104, 741, '{i|I}{s|div}{r| (kA)}'),
  txt(104, 865, '{i|n}{s|e}{r|(1e+19/m}{u|3}{r|),}\n{i|T}{s|e}{r| (keV)}'),
  txt(104, 1004, '{r|\u1E44 / 1e21}\n{r|(part / s)}'),
  txt(103, 1127, '{i|z}{s|squad}{r| (m)}', C.orange),
  txt(108, 1283, '{i|I}{s|667.8nm}\n{r|(arb. unit)}'),
  txt(1041, 172, '{i|B}{s|t}{r| (T)}'),
  txt(1088, 285, '{i|n}{r|/}{i|n}{s|GW}{r| (H1)}', C.ngw),
  txt(1075, 1143, '{i|R}{s|aus}{r| (m)}', C.blue)
];
TOPS.forEach((t, i) => {
  graphics.push({type: 'text', x: 291, y: t + 12, z: 90, silent: true,
    style: {text: panelNames[i], fill: '#000', fontFamily: FONT, fontSize: 24, font: '24px "DejaVu Sans"',
      align: 'left', verticalAlign: 'top', textAlign: 'left', textVerticalAlign: 'top', lineHeight: 28,
      backgroundColor: 'rgba(255,255,255,0.8)', borderColor: '#aaaaaa', borderWidth: 1.5, borderRadius: 8,
      padding: [8, 10, 8, 10]}});
});

const chart = echarts.init(document.getElementById('c'), null, {renderer: 'svg', width: 1168, height: 1421});
chart.setOption({
  animation: false,
  backgroundColor: '#fff',
  grid: grids, xAxis: xAxes, yAxis: yAxes, series: series, legend: legends, graphic: graphics
});
</script></body></html>
